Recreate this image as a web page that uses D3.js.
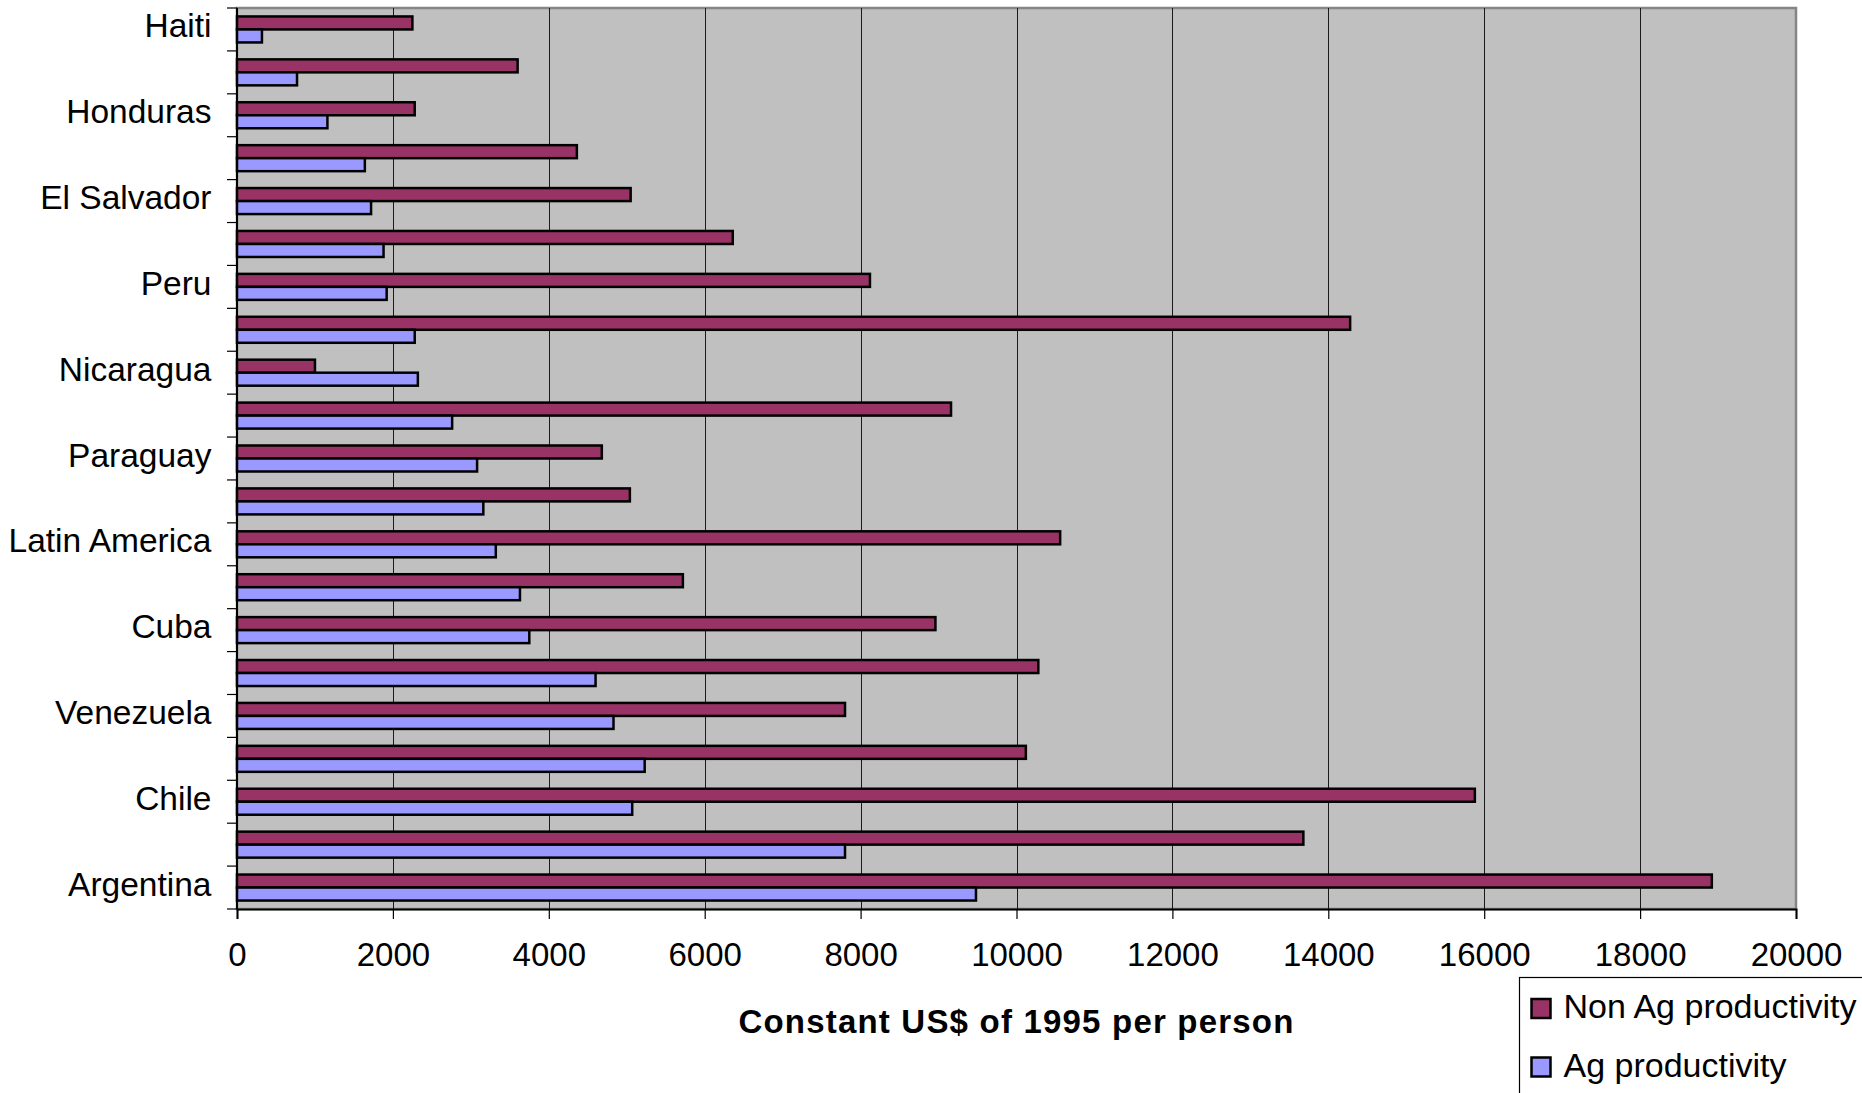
<!DOCTYPE html>
<html>
<head>
<meta charset="utf-8">
<script src="https://cdn.jsdelivr.net/npm/d3@7"></script>
<style>
  html, body { margin: 0; padding: 0; background: #fff; }
  svg { display: block; }
  text { font-family: "Liberation Sans", Arial, sans-serif; fill: #000; }
</style>
</head>
<body>
<svg id="chart" width="1862" height="1093"></svg>
<script>
// Countries, ordered top to bottom; every other category is left unlabelled
const categories = ["Haiti", "", "Honduras", "", "El Salvador", "", "Peru", "", "Nicaragua", "",
  "Paraguay", "", "Latin America", "", "Cuba", "", "Venezuela", "", "Chile", "", "Argentina"];

// Output per person, constant 1995 US$
const nonAgProductivity = [2250, 3600, 2280, 4360, 5050, 6360, 8120, 14280, 1000, 9160,
  4680, 5040, 10560, 5720, 8960, 10280, 7800, 10120, 15880, 13680, 18920];
const agProductivity = [320, 770, 1160, 1640, 1720, 1880, 1920, 2280, 2320, 2760,
  3080, 3160, 3320, 3630, 3750, 4600, 4830, 5230, 5070, 7800, 9480];

const seriesNames = ["Non Ag productivity", "Ag productivity"];
const seriesColors = ["#993366", "#9999FF"];
const xTickValues = [0, 2000, 4000, 6000, 8000, 10000, 12000, 14000, 16000, 18000, 20000];
const xTitle = "Constant US$ of 1995 per person";

const plot = { left: 237, right: 1796, top: 8, bottom: 909 };
const svg = d3.select("#chart");

const x = d3.scaleLinear().domain([0, 20000]).range([plot.left, plot.right]);
const y = d3.scaleBand()
  .domain(d3.range(categories.length))
  .range([plot.top, plot.bottom])
  .paddingInner(0.394)
  .paddingOuter(0.197);
const ySub = d3.scaleBand().domain([0, 1]).range([0, y.bandwidth()]);

// Plot area background
svg.append("rect")
  .attr("x", plot.left).attr("y", plot.top)
  .attr("width", plot.right - plot.left).attr("height", plot.bottom - plot.top)
  .attr("fill", "#C0C0C0")
  .attr("stroke", "#858585").attr("stroke-width", 2.5);

// Vertical gridlines
svg.append("g")
  .selectAll("line")
  .data(xTickValues.slice(1, -1))
  .join("line")
  .attr("x1", d => Math.round(x(d)) + 0.5).attr("x2", d => Math.round(x(d)) + 0.5)
  .attr("y1", plot.top).attr("y2", plot.bottom)
  .attr("stroke", "#1a1a1a").attr("stroke-width", 1);

// Bars
const rows = categories.map((c, i) => ({ i, values: [nonAgProductivity[i], agProductivity[i]] }));
const groups = svg.append("g")
  .selectAll("g")
  .data(rows)
  .join("g")
  .attr("transform", d => `translate(0,${y(d.i)})`);

groups.selectAll("rect")
  .data(d => d.values.map((v, s) => ({ v, s })))
  .join("rect")
  .attr("x", x(0))
  .attr("y", d => ySub(d.s))
  .attr("width", d => x(d.v) - x(0))
  .attr("height", ySub.bandwidth())
  .attr("fill", d => seriesColors[d.s])
  .attr("stroke", "#000")
  .attr("stroke-width", 2.5);

// Category axis
const yAxis = d3.axisLeft(y)
  .tickSize(0)
  .tickFormat(i => categories[i]);
const gy = svg.append("g").attr("transform", `translate(${plot.left},0)`).call(yAxis);
gy.select(".domain").remove();
gy.selectAll("text")
  .attr("x", -25.5)
  .attr("dy", null)
  .attr("y", 8)
  .style("font-size", "33.5px")
  .style("font-family", "'Liberation Sans', Arial, sans-serif")
  .attr("fill", "#000");
// tick marks at category boundaries
svg.append("g")
  .selectAll("line")
  .data(d3.range(categories.length + 1))
  .join("line")
  .attr("x1", plot.left - 10).attr("x2", plot.left)
  .attr("y1", i => plot.top + i * y.step()).attr("y2", i => plot.top + i * y.step())
  .attr("stroke", "#000").attr("stroke-width", 1.2);
svg.append("line")
  .attr("x1", plot.left).attr("x2", plot.left)
  .attr("y1", plot.top).attr("y2", plot.bottom)
  .attr("stroke", "#000").attr("stroke-width", 2);

// Value axis
const xAxis = d3.axisBottom(x)
  .tickValues(xTickValues)
  .tickSize(10)
  .tickPadding(24)
  .tickFormat(d3.format("d"));
const gx = svg.append("g").attr("transform", `translate(0,${plot.bottom})`).call(xAxis);
gx.select(".domain").attr("stroke", "#000").attr("stroke-width", 2);
gx.selectAll(".tick line").attr("stroke", "#000").attr("stroke-width", 1.2);
gx.selectAll("text")
  .style("font-size", "33px")
  .style("font-family", "'Liberation Sans', Arial, sans-serif")
  .attr("fill", "#000");

// Axis title
svg.append("text")
  .attr("x", (plot.left + plot.right) / 2)
  .attr("y", 1033)
  .attr("text-anchor", "middle")
  .style("font-size", "33px")
  .style("font-weight", "bold")
  .style("letter-spacing", "1.2px")
  .text(xTitle);

// Legend
const legend = svg.append("g").attr("transform", "translate(1519.5,977.5)");
legend.append("rect")
  .attr("x", 0).attr("y", 0)
  .attr("width", 400).attr("height", 200)
  .attr("fill", "#fff")
  .attr("stroke", "#000").attr("stroke-width", 1.2);
const items = legend.selectAll("g.item")
  .data(seriesNames)
  .join("g")
  .attr("class", "item")
  .attr("transform", (d, i) => `translate(0,${21.5 + i * 58.5})`);
items.append("rect")
  .attr("x", 12).attr("y", 0)
  .attr("width", 19).attr("height", 19)
  .attr("fill", (d, i) => seriesColors[i])
  .attr("stroke", "#000").attr("stroke-width", 2.5);
items.append("text")
  .attr("x", 44).attr("y", 19)
  .style("font-size", "34px")
  .text(d => d);
</script>
</body>
</html>
